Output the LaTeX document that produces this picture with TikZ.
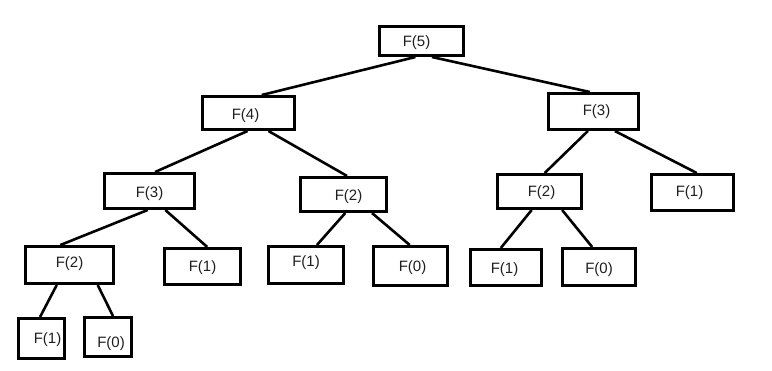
\documentclass[tikz,border=0pt]{standalone}
\usepackage{fontspec}
\setmainfont{Liberation Sans}
\usetikzlibrary{calc}
\begin{document}
\begin{tikzpicture}[x=1pt,y=-1pt,
  box/.style={draw, line width=2.6pt, inner sep=0pt},
  boxtext/.style={font=\fontsize{15}{17}\selectfont, inner sep=0pt, text=black!88},
  link/.style={line width=2.6pt}]
\useasboundingbox[fill=white] (0,0) rectangle (772,370);
\newcommand\mybox[8]{\node[box, minimum width={#4-#2-2.6}, minimum height={#5-#3-2.6},
   label={[boxtext, xshift=#6pt, yshift=-#7pt]center:#8}] (#1) at ({(#2+#4)/2},{(#3+#5)/2}) {};}
\newcommand\mylink[4]{\draw[link] ($(#1.south west)!#2!(#1.south east)$) -- ($(#3.north west)!#4!(#3.north east)$);}
\mybox{f5}{378}{25}{465}{57}{-5}{2}{F(5)}
\mybox{f4}{201}{95}{296}{131}{-3}{3}{F(4)}
\mybox{f3r}{547}{92}{640}{131}{3}{0.5}{F(3)}
\mybox{f3l}{103}{172}{196}{210}{0}{3}{F(3)}
\mybox{f2m}{299}{176}{388}{213}{5}{2}{F(2)}
\mybox{f2r}{496}{173}{583}{210}{2}{1.5}{F(2)}
\mybox{f1r}{650}{173}{735}{212}{-3}{0.5}{F(1)}
\mybox{f2l}{24}{245}{115}{285}{0}{-1.5}{F(2)}
\mybox{f1a}{163}{247}{242}{286}{0}{1.5}{F(1)}
\mybox{f1b}{267}{245}{345}{285}{0}{-2.5}{F(1)}
\mybox{f0b}{372}{245}{449}{287}{2}{2}{F(0)}
\mybox{f1c}{469}{248}{543}{287}{-1.5}{2}{F(1)}
\mybox{f0c}{561}{247}{637}{287}{0}{2.5}{F(0)}
\mybox{f1d}{17}{317}{66}{360}{6}{1.5}{F(1)}
\mybox{f0d}{83}{316}{133}{358}{3}{7}{F(0)}
\mylink{f5}{0.43}{f4}{0.64}
\mylink{f5}{0.62}{f3r}{0.46}
\mylink{f4}{0.49}{f3l}{0.56}
\mylink{f4}{0.71}{f2m}{0.54}
\mylink{f3r}{0.44}{f2r}{0.56}
\mylink{f3r}{0.73}{f1r}{0.55}
\mylink{f3l}{0.48}{f2l}{0.40}
\mylink{f3l}{0.67}{f1a}{0.56}
\mylink{f2m}{0.52}{f1b}{0.64}
\mylink{f2m}{0.82}{f0b}{0.49}
\mylink{f2r}{0.41}{f1c}{0.43}
\mylink{f2r}{0.76}{f0c}{0.41}
\mylink{f2l}{0.36}{f1d}{0.47}
\mylink{f2l}{0.81}{f0d}{0.60}
\end{tikzpicture}
\end{document}
